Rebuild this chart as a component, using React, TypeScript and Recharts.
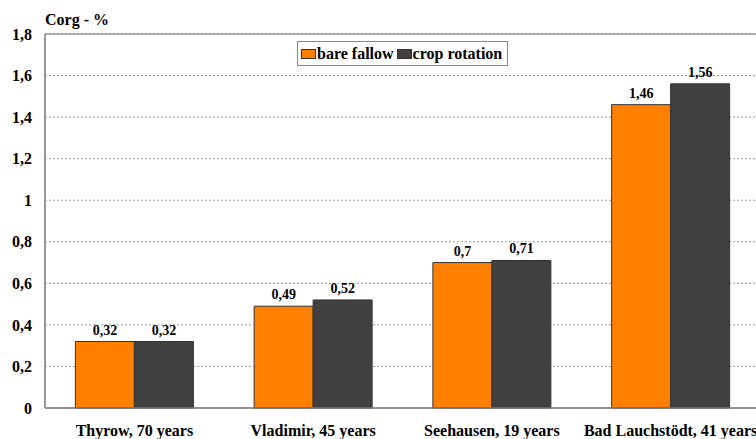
import { Bar, BarChart, CartesianGrid, LabelList, Legend, ReferenceLine, XAxis, YAxis } from "recharts";

const SITES = ["Thyrow, 70 years", "Vladimir, 45 years", "Seehausen, 19 years", "Bad Lauchstödt, 41 years"];
const BARE_FALLOW = [0.32, 0.49, 0.7, 1.46];
const CROP_ROTATION = [0.32, 0.52, 0.71, 1.56];
const Y_TICKS = [0, 0.2, 0.4, 0.6, 0.8, 1, 1.2, 1.4, 1.6, 1.8];

const ORANGE = "#ff8000";
const DARK = "#404040";
const FONT = "'Liberation Serif', 'Times New Roman', serif";

const data = SITES.map((site, i) => ({
  site,
  bare: BARE_FALLOW[i],
  crop: CROP_ROTATION[i],
}));

const comma = (v: number | string) => String(v).replace(".", ",");

function LegendBox() {
  const swatch = (color: string) => (
    <span
      style={{
        display: "inline-block",
        width: 15,
        height: 10,
        background: color,
        border: "1px solid #333",
        boxSizing: "border-box",
        marginRight: 1,
      }}
    />
  );
  return (
    <div
      style={{
        border: "1px solid #888",
        height: 25,
        width: 211,
        boxSizing: "border-box",
        display: "flex",
        alignItems: "center",
        padding: "0 0 0 3px",
        fontFamily: FONT,
        fontWeight: "bold",
        fontSize: 16,
        color: "#000",
        background: "#fff",
        whiteSpace: "nowrap",
      }}
    >
      {swatch(ORANGE)}
      <span style={{ marginRight: 3 }}>bare fallow</span>
      {swatch(DARK)}
      <span>crop rotation</span>
    </div>
  );
}

export default function App() {
  return (
    <div
      style={{
        position: "fixed",
        left: 0,
        top: 0,
        width: 756,
        height: 439,
        overflow: "hidden",
        background: "#fff",
      }}
    >
      <div
        style={{
          position: "absolute",
          left: 45,
          top: 11,
          fontFamily: FONT,
          fontWeight: "bold",
          fontSize: 16,
          zIndex: 2,
        }}
      >
        Corg - %
      </div>
      <BarChart
        width={770}
        height={439}
        data={data}
        margin={{ top: 34, right: 10, left: 0, bottom: 0 }}
        barCategoryGap="17%"
        barGap={0}
      >
        <CartesianGrid vertical={false} stroke="#999" strokeDasharray="2 2" />
        <ReferenceLine y={1.8} stroke="#999" strokeWidth={1.5} />
        <XAxis
          dataKey="site"
          height={31}
          interval={0}
          tickLine={false}
          tickMargin={11}
          axisLine={{ stroke: "#777", strokeWidth: 1.5 }}
          tick={{ fill: "#000", fontFamily: FONT, fontWeight: "bold", fontSize: 16 }}
        />
        <YAxis
          width={45}
          domain={[0, 1.8]}
          ticks={Y_TICKS}
          tickFormatter={comma}
          tickLine={false}
          tickMargin={7}
          axisLine={{ stroke: "#999", strokeWidth: 2 }}
          tick={{ fill: "#000", fontFamily: FONT, fontWeight: "bold", fontSize: 16 }}
        />
        <Legend
          layout="horizontal"
          verticalAlign="middle"
          align="center"
          wrapperStyle={{ left: 297, top: 41, width: 211 }}
          content={() => <LegendBox />}
        />
        <Bar dataKey="bare" name="bare fallow" fill={ORANGE} stroke="#333" strokeWidth={1} isAnimationActive={false}>
          <LabelList
            dataKey="bare"
            position="top"
            offset={7}
            formatter={comma}
            style={{ fill: "#000", fontFamily: FONT, fontWeight: "bold", fontSize: 14 }}
          />
        </Bar>
        <Bar dataKey="crop" name="crop rotation" fill={DARK} stroke="#333" strokeWidth={1} isAnimationActive={false}>
          <LabelList
            dataKey="crop"
            position="top"
            offset={7}
            formatter={comma}
            style={{ fill: "#000", fontFamily: FONT, fontWeight: "bold", fontSize: 14 }}
          />
        </Bar>
      </BarChart>
    </div>
  );
}
